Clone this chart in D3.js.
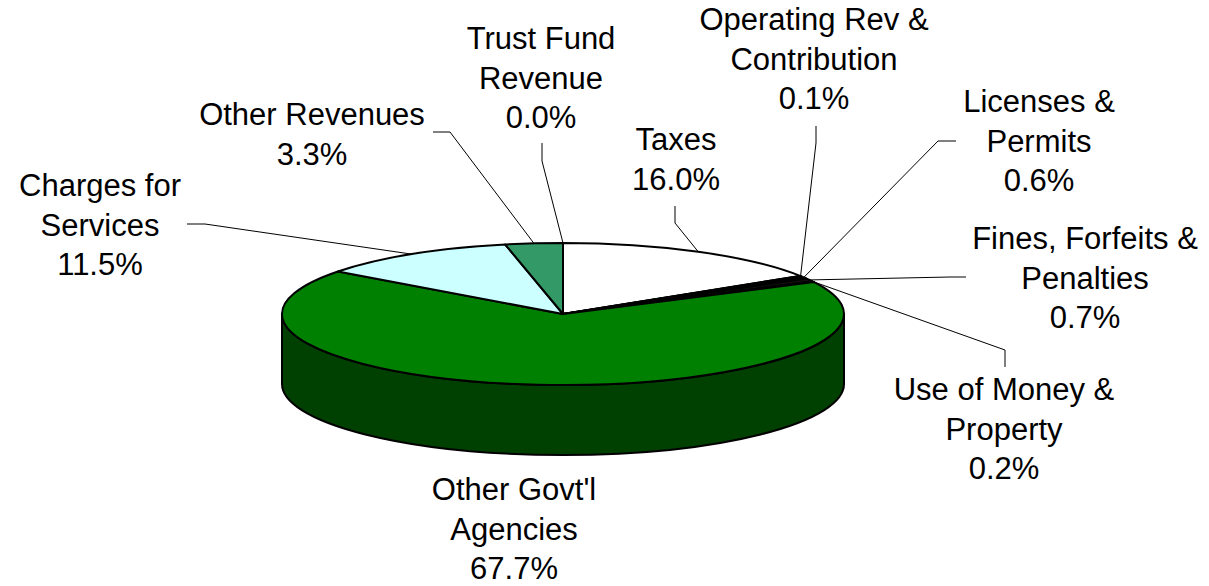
<!DOCTYPE html>
<html>
<head>
<meta charset="utf-8">
<script src="https://cdn.jsdelivr.net/npm/d3@7"></script>
<style>
  html, body { margin: 0; padding: 0; background: #fff; }
  svg { display: block; }
  .lbl { font-family: 'Liberation Sans', Arial, sans-serif; font-size: 31px; fill: #000; }
</style>
</head>
<body>
<div id="chart"></div>
<script>
// data
const categories = [
  'Taxes', 'Operating Rev & Contribution', 'Licenses & Permits',
  'Fines, Forfeits & Penalties', 'Use of Money & Property',
  "Other Govt'l Agencies", 'Charges for Services', 'Other Revenues',
  'Trust Fund Revenue'
];
const shares = [16.0, 0.1, 0.6, 0.7, 0.2, 67.7, 11.5, 3.3, 0.0];
const labelLines = [
  ['Taxes'],
  ['Operating Rev &', 'Contribution'],
  ['Licenses &', 'Permits'],
  ['Fines, Forfeits &', 'Penalties'],
  ['Use of Money &', 'Property'],
  ["Other Govt'l", 'Agencies'],
  ['Charges for', 'Services'],
  ['Other Revenues'],
  ['Trust Fund', 'Revenue']
];
const fills = ['#ffffff', '#222222', '#000000', '#111111', '#000000',
  '#008000', '#ccffff', '#339966', '#ffffff'];

// label placement: [centre x, first baseline], leader start and elbow
const labelAt = [[676, 150], [814, 30], [1039, 112], [1085, 249], [1004, 400],
  [514, 500], [100, 196], [312, 125], [541, 49]];
const leaderPts = [
  [[675, 206], [675, 223]],
  [[816, 126], [816, 143]],
  [[956, 141], [938, 141]],
  [[966, 277], [950, 277]],
  [[1005, 367], [1005, 350]],
  null,
  [[187, 224], [205, 224]],
  [[433, 132], [450, 132]],
  [[542, 143], [542, 161]]
];

const W = 1209, H = 586;
const cx = 563, cy = 314, rx = 281, ry = 71, depth = 70;
const lineGap = 39.5;

const svg = d3.select('#chart').append('svg').attr('width', W).attr('height', H);

const sx = d3.scaleLinear().domain([-1, 1]).range([cx - rx, cx + rx]);
const sy = d3.scaleLinear().domain([-1, 1]).range([cy - ry, cy + ry]);
const pt = (a, dz = 0) => [sx(Math.sin(a)), sy(-Math.cos(a)) + dz];

const pie = d3.pie().sort(null).value(d => d)(shares);

// side wall (front half only)
const sidePath = (a, b) => {
  const p0 = pt(a), p1 = pt(b), q1 = pt(b, depth), q0 = pt(a, depth);
  return `M${p0}A${rx},${ry} 0 0 1 ${p1}L${q1}A${rx},${ry} 0 0 0 ${q0}Z`;
};
const sides = pie
  .map((d, i) => ({
    i,
    a: Math.max(d.startAngle, Math.PI / 2),
    b: Math.min(d.endAngle, 1.5 * Math.PI)
  }))
  .filter(s => s.b > s.a);

svg.append('g').selectAll('path').data(sides).join('path')
  .attr('d', s => sidePath(s.a, s.b))
  .attr('fill', s => d3.interpolateRgb(fills[s.i], '#000')(0.5))
  .attr('stroke', '#000')
  .attr('stroke-width', 2)
  .attr('stroke-linejoin', 'round');

// top face
const topPath = d => {
  const p0 = pt(d.startAngle), p1 = pt(d.endAngle);
  const large = d.endAngle - d.startAngle > Math.PI ? 1 : 0;
  return `M${cx},${cy}L${p0}A${rx},${ry} 0 ${large} 1 ${p1}Z`;
};
svg.append('g').selectAll('path').data(pie).join('path')
  .attr('d', topPath)
  .attr('fill', (d, i) => fills[i])
  .attr('stroke', '#000')
  .attr('stroke-width', 2)
  .attr('stroke-linejoin', 'round');

// leader lines
const leaders = pie
  .map((d, i) => leaderPts[i] && [...leaderPts[i], pt((d.startAngle + d.endAngle) / 2)])
  .filter(Boolean);
svg.append('g').selectAll('polyline').data(leaders).join('polyline')
  .attr('points', d => d.join(' '))
  .attr('fill', 'none')
  .attr('stroke', '#000')
  .attr('stroke-width', 1);

// labels
const fmt = d3.format('.1f');
const labels = svg.append('g').selectAll('text').data(pie).join('text')
  .attr('class', 'lbl')
  .attr('text-anchor', 'middle')
  .attr('x', (d, i) => labelAt[i][0])
  .attr('y', (d, i) => labelAt[i][1]);

labels.selectAll('tspan')
  .data((d, i) => [...labelLines[i], fmt(d.data) + '%'])
  .join('tspan')
  .attr('x', function () { return this.parentNode.getAttribute('x'); })
  .attr('dy', (t, j) => (j ? lineGap : 0))
  .text(t => t);
</script>
</body>
</html>
